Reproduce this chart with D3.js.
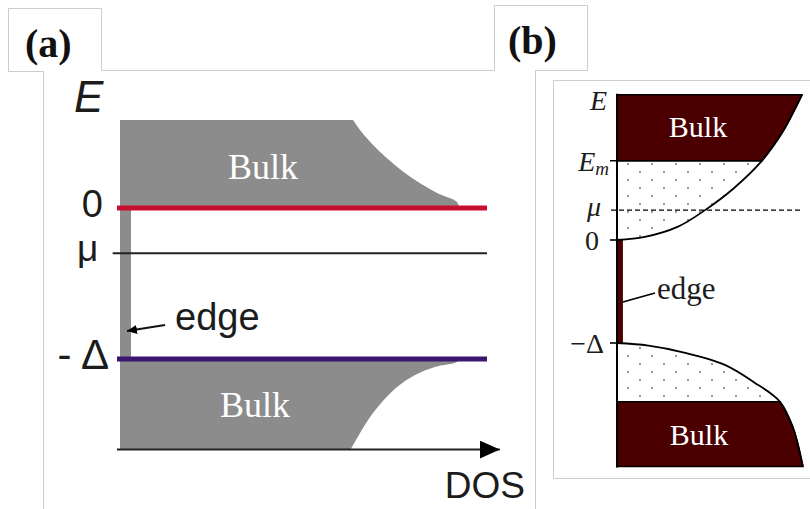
<!DOCTYPE html>
<html>
<head>
<meta charset="utf-8">
<script src="https://cdn.jsdelivr.net/npm/d3@7"></script>
<style>
  html, body { margin: 0; padding: 0; background: #fff; }
  svg { display: block; }
</style>
</head>
<body>
<script>
// ---- Panel (a): schematic DOS, energies in units of Δ ----
const levelNamesA = ["0", "- Δ"];
const levelValuesA = [0, -1];
const muA = -0.3;
const bulkTopA = 0.58;
const bulkBottomA = -1.6;
const edgeDosA = 0.03;
// conduction-side bulk DOS profile: [E, DOS]
const bulkUpperA = [[0, 0.925], [0.04, 0.918], [0.099, 0.864], [0.185, 0.804], [0.285, 0.749], [0.384, 0.703], [0.483, 0.665], [0.583, 0.635]];
// valence-side bulk DOS profile: [E, DOS]
const bulkLowerA = [[-1.6, 0.628], [-1.583, 0.632], [-1.404, 0.676], [-1.285, 0.714], [-1.185, 0.755], [-1.106, 0.804], [-1.053, 0.858], [-1.02, 0.918], [-1, 0.925]];

// ---- Panel (b): band edges with filled (bulk) and partially filled regions ----
const levelNamesB = ["E", "E_m", "μ", "0", "−Δ"];
const EmB = 0.77;
const muB = 0.29;
const deltaB = 1;
const topB = 1.41;
const bottomB = -2.2;
const lowerBulkB = -1.57;
const edgeDosB = 0.032;
// upper band boundary: [E, DOS]
const bandUpperB = [[0, 0], [0.03, 0.15], [0.13, 0.33], [0.29, 0.476], [0.5, 0.63], [0.77, 0.784], [1.04, 0.892], [1.41, 1.0]];
// lower band boundary: [E, DOS]
const bandLowerB = [[-2.2, 1.005], [-1.82, 0.951], [-1.57, 0.881], [-1.38, 0.74], [-1.21, 0.58], [-1.09, 0.357], [-1.025, 0.17], [-1, 0]];

const W = 810, H = 509;
const SANS = "'Liberation Sans', Arial, sans-serif";
const SERIF = "'Liberation Serif', 'Times New Roman', serif";
const INK = "#1c1c1c";

const svg = d3.select("body").append("svg")
  .attr("width", W).attr("height", H)
  .attr("viewBox", `0 0 ${W} ${H}`);

const defs = svg.append("defs");
const pat = defs.append("pattern")
  .attr("id", "dots").attr("patternUnits", "userSpaceOnUse")
  .attr("width", 24).attr("height", 16);
pat.append("circle").attr("cx", 4).attr("cy", 4).attr("r", 1.1).attr("fill", "#808080");
pat.append("circle").attr("cx", 16).attr("cy", 12).attr("r", 1.1).attr("fill", "#808080");

function arrowMarker(id, len, half) {
  defs.append("marker")
    .attr("id", id).attr("markerUnits", "userSpaceOnUse")
    .attr("viewBox", `0 ${-half} ${len} ${2 * half}`)
    .attr("refX", len).attr("refY", 0)
    .attr("markerWidth", len).attr("markerHeight", 2 * half)
    .attr("orient", "auto")
    .append("path")
    .attr("d", `M0,${-half}L${len},0L0,${half}Z`)
    .attr("fill", "#000");
}
arrowMarker("axisHead", 20, 9);
arrowMarker("edgeHead", 10, 4.5);

// ---- frame lines around the two sub-figures ----
const frame = svg.append("g").attr("fill", "none").attr("stroke", "#cdcdcd").attr("stroke-width", 1);
frame.append("path").attr("d", "M43.5,509V71.5H8.5V8.5H101.5V70.5H494.5V5.5H587.5V70.5H535.5V509");
frame.append("path").attr("d", "M810,80.5H553.5V478.5H810");

// ---- sub-figure labels ----
svg.append("text").attr("x", 25).attr("y", 57).text("(a)")
  .attr("font-family", SERIF).attr("font-weight", "bold").attr("font-size", 40).attr("fill", "#111");
svg.append("text").attr("x", 508).attr("y", 54).text("(b)")
  .attr("font-family", SERIF).attr("font-weight", "bold").attr("font-size", 40).attr("fill", "#111");

// =================== Panel (a) ===================
const xA = d3.scaleLinear().domain([0, 1]).range([120, 487]);
const yA = d3.scaleLinear().domain([-1, 0]).range([359, 208]);
const gA = svg.append("g");

const areaA = d3.area()
  .y(d => yA(d[0])).x0(xA(0)).x1(d => xA(d[1]))
  .curve(d3.curveCatmullRom.alpha(0.5));

// flat-topped bulk regions
gA.append("path").datum(bulkUpperA).attr("d", areaA).attr("fill", "#8c8c8c");
gA.append("path").datum(bulkLowerA).attr("d", areaA).attr("fill", "#8c8c8c");
// edge states filling the gap
gA.append("rect")
  .attr("x", xA(0)).attr("y", yA(levelValuesA[0]))
  .attr("width", xA(edgeDosA) - xA(0))
  .attr("height", yA(levelValuesA[1]) - yA(levelValuesA[0]))
  .attr("fill", "#8c8c8c");

// DOS axis with arrow
gA.append("line")
  .attr("x1", xA(0) - 3).attr("x2", xA(1.035))
  .attr("y1", yA(bulkBottomA)).attr("y2", yA(bulkBottomA))
  .attr("stroke", "#222").attr("stroke-width", 2)
  .attr("marker-end", "url(#axisHead)");

// chemical potential
gA.append("line")
  .attr("x1", xA(-0.02)).attr("x2", xA(1))
  .attr("y1", yA(muA)).attr("y2", yA(muA))
  .attr("stroke", "#222").attr("stroke-width", 2);

// band-edge levels
const levelColorsA = ["#c8102e", "#3a1670"];
levelValuesA.forEach((v, i) => {
  gA.append("line")
    .attr("x1", xA(0) - 3).attr("x2", xA(1))
    .attr("y1", yA(v)).attr("y2", yA(v))
    .attr("stroke", levelColorsA[i]).attr("stroke-width", 5);
});

// level labels
gA.append("text").attr("x", 103).attr("y", yA(levelValuesA[0]) + 9).attr("text-anchor", "end")
  .text(levelNamesA[0]).attr("font-family", SANS).attr("font-size", 38).attr("fill", INK);
gA.append("text").attr("x", 109).attr("y", yA(levelValuesA[1]) + 10).attr("text-anchor", "end")
  .text(levelNamesA[1]).attr("font-family", SANS).attr("font-size", 42).attr("fill", INK);
gA.append("text").attr("x", 77).attr("y", yA(muA) + 8)
  .text("μ").attr("font-family", SANS).attr("font-size", 37).attr("fill", INK);
gA.append("text").attr("x", 74).attr("y", 112)
  .text("E").attr("font-family", SANS).attr("font-style", "italic").attr("font-size", 44).attr("fill", INK);
gA.append("text").attr("x", 525).attr("y", 498).attr("text-anchor", "end")
  .text("DOS").attr("font-family", SANS).attr("font-size", 37).attr("fill", INK);

// bulk labels
gA.append("text").attr("x", 263).attr("y", 179).attr("text-anchor", "middle")
  .text("Bulk").attr("font-family", SERIF).attr("font-size", 36).attr("fill", "#fff");
gA.append("text").attr("x", 255).attr("y", 417).attr("text-anchor", "middle")
  .text("Bulk").attr("font-family", SERIF).attr("font-size", 36).attr("fill", "#fff");

// edge annotation
gA.append("line")
  .attr("x1", 165).attr("y1", 325).attr("x2", 127).attr("y2", 331)
  .attr("stroke", "#111").attr("stroke-width", 2)
  .attr("marker-end", "url(#edgeHead)");
gA.append("text").attr("x", 175).attr("y", 330)
  .text("edge").attr("font-family", SANS).attr("font-size", 38).attr("fill", INK);

// =================== Panel (b) ===================
const xB = d3.scaleLinear().domain([0, 1]).range([617, 802]);
const yB = d3.scaleLinear().domain([-1, 0]).range([343, 240]);
const gB = svg.append("g");
const MAROON = "#4a0000";

const smooth = d3.curveCatmullRom.alpha(0.5);
const areaB = d3.area()
  .y(d => yB(d[0])).x0(xB(0)).x1(d => xB(d[1]))
  .curve(smooth);
const lineB = d3.line()
  .y(d => yB(d[0])).x(d => xB(d[1]))
  .curve(smooth);

const upperDotted = bandUpperB.filter(d => d[0] <= EmB);
const upperBulk = bandUpperB.filter(d => d[0] >= EmB);
const lowerDotted = bandLowerB.filter(d => d[0] >= lowerBulkB);
const lowerBulk = bandLowerB.filter(d => d[0] <= lowerBulkB);

gB.append("path").datum(upperDotted).attr("d", areaB).attr("fill", "url(#dots)");
gB.append("path").datum(lowerDotted).attr("d", areaB).attr("fill", "url(#dots)");
gB.append("path").datum(upperBulk).attr("d", areaB)
  .attr("fill", MAROON).attr("stroke", "#000").attr("stroke-width", 1.5);
gB.append("path").datum(lowerBulk).attr("d", areaB)
  .attr("fill", MAROON).attr("stroke", "#000").attr("stroke-width", 1.5);

// edge states
gB.append("rect")
  .attr("x", xB(0)).attr("y", yB(0))
  .attr("width", xB(edgeDosB) - xB(0))
  .attr("height", yB(-deltaB) - yB(0))
  .attr("fill", MAROON);

// band boundaries
gB.append("path").datum(bandUpperB).attr("d", lineB)
  .attr("fill", "none").attr("stroke", "#000").attr("stroke-width", 1.8);
gB.append("path").datum(bandLowerB).attr("d", lineB)
  .attr("fill", "none").attr("stroke", "#000").attr("stroke-width", 1.8);

// E_m level
gB.append("line")
  .attr("x1", xB(0) - 7).attr("x2", xB(0.784))
  .attr("y1", yB(EmB)).attr("y2", yB(EmB))
  .attr("stroke", "#000").attr("stroke-width", 1.6);

// chemical potential (dashed)
gB.append("line")
  .attr("x1", xB(0) - 6).attr("x2", xB(1))
  .attr("y1", yB(muB)).attr("y2", yB(muB))
  .attr("stroke", "#000").attr("stroke-width", 1.3)
  .attr("stroke-dasharray", "5,3");

// ticks at 0 and −Δ
[0, -deltaB].forEach(v => {
  gB.append("line")
    .attr("x1", xB(0) - 7).attr("x2", xB(0) + 4)
    .attr("y1", yB(v)).attr("y2", yB(v))
    .attr("stroke", "#000").attr("stroke-width", 1.6);
});

// energy axis
gB.append("line")
  .attr("x1", xB(0)).attr("x2", xB(0))
  .attr("y1", yB(topB) - 1).attr("y2", yB(bottomB) + 1)
  .attr("stroke", "#000").attr("stroke-width", 2);

// axis labels
const lab = (x, y, t, italic) => gB.append("text")
  .attr("x", x).attr("y", y).attr("text-anchor", "end")
  .attr("font-family", SERIF).attr("font-size", 28).attr("fill", INK)
  .attr("font-style", italic ? "italic" : "normal").text(t);
lab(607, 110, levelNamesB[0], true);
const em = gB.append("text").attr("x", 609).attr("y", yB(EmB) + 10).attr("text-anchor", "end")
  .attr("font-family", SERIF).attr("font-size", 28).attr("fill", INK).attr("font-style", "italic");
em.append("tspan").text(levelNamesB[1].split("_")[0]);
em.append("tspan").attr("font-size", 19).attr("dy", 4).text(levelNamesB[1].split("_")[1]);
lab(601, yB(muB) + 6, levelNamesB[2], true);
lab(599, yB(0) + 10, levelNamesB[3], false);
lab(604, yB(-deltaB) + 10, levelNamesB[4], false);

// bulk labels
gB.append("text").attr("x", 698).attr("y", 137).attr("text-anchor", "middle")
  .text("Bulk").attr("font-family", SERIF).attr("font-size", 30).attr("fill", "#fff");
gB.append("text").attr("x", 699).attr("y", 445).attr("text-anchor", "middle")
  .text("Bulk").attr("font-family", SERIF).attr("font-size", 30).attr("fill", "#fff");

// edge annotation
gB.append("line")
  .attr("x1", 655).attr("y1", 293).attr("x2", xB(edgeDosB)).attr("y2", 302)
  .attr("stroke", "#000").attr("stroke-width", 1.8);
gB.append("text").attr("x", 657).attr("y", 299)
  .text("edge").attr("font-family", SERIF).attr("font-size", 31).attr("fill", INK);
</script>
</body>
</html>
